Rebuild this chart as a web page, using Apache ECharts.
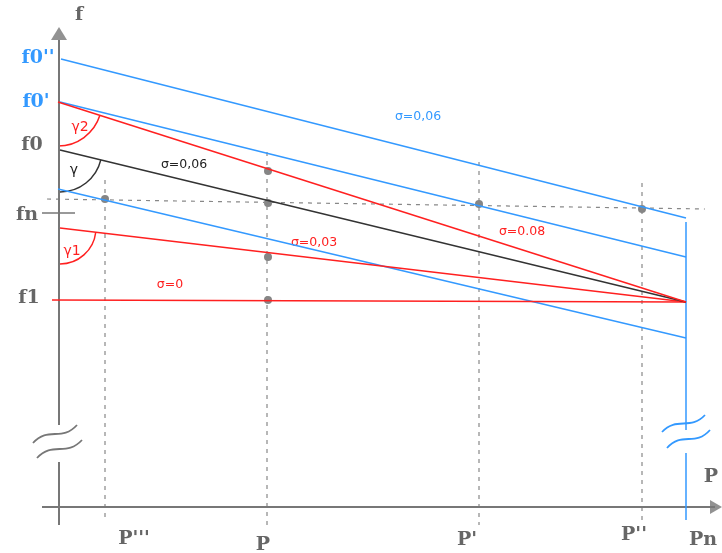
<!DOCTYPE html>
<html>
<head>
<meta charset="utf-8">
<script src="https://cdn.jsdelivr.net/npm/echarts@6/dist/echarts.min.js"></script>
<style>
  html, body { margin: 0; padding: 0; background: #fff; }
  #chart { width: 722px; height: 553px; }
</style>
</head>
<body>
<div id="chart"></div>
<script>
// f - P diagram, units counted from where the two axes cross (P right, f up)
const blueTop = [[2, 448], [627, 289]];
const blueMid = [[1, 405], [627, 250]];
const blueLow = [[-1, 318], [627, 169]];
const blueVertUp = [[627, 285], [627, 77]];
const blueVertDown = [[627, 54], [627, -13]];
const red008 = [[-1, 405], [627, 205]];
const black006 = [[1, 357], [627, 205]];
const red003 = [[1, 279], [627, 205]];
const red0 = [[-7, 207], [627, 205]];

const fAxisUp = [[0, 467], [0, 82]];
const fAxisDown = [[0, 45], [0, -18]];
const pAxis = [[-17, 0], [656, 0]];
const fnTick = [[-17, 294], [16, 294]];

const fnLine = [[-12, 308], [646, 298]];
const pDrops = [
  [[46, 327], [46, -15]],
  [[208, 355], [208, -23]],
  [[420, 345], [420, -18]],
  [[583, 324], [583, -13]]
];
const dots = [[46, 308], [209, 336], [209, 304], [209, 250], [209, 207], [420, 303], [583, 298]];

// angle arcs drawn from the start of a line down to the f axis
const arcs = [
  { line: red008, r: 44, color: '#ff2020' },
  { line: black006, r: 42, color: '#333333' },
  { line: red003, r: 36, color: '#ff2020' }
];
// axis break waves: [x1, y1, x2, y2]
const breaks = [
  { p: [-26, 64, 18, 82], color: '#777777' },
  { p: [-22, 49, 23, 67], color: '#777777' },
  { p: [603, 75, 646, 92], color: '#3399ff' },
  { p: [608, 59, 651, 77], color: '#3399ff' }
];

const BLUE = '#3399ff', RED = '#ff2020', BLACK = '#333333', GRAY = '#777777';

function seg(data, color, width, type) {
  return {
    type: 'line',
    data: data,
    symbol: 'none',
    silent: true,
    animation: false,
    lineStyle: { color: color, width: width || 1.5, type: type || 'solid' }
  };
}

const series = [
  seg(fnLine, '#888888', 1.2, [4, 5]),
  ...pDrops.map(d => seg(d, '#888888', 1.2, [4, 5])),
  seg(fAxisUp, GRAY, 2),
  seg(fAxisDown, GRAY, 2),
  seg(pAxis, GRAY, 2),
  seg(fnTick, GRAY, 1.5),
  seg(blueTop, BLUE),
  seg(blueMid, BLUE),
  seg(blueLow, BLUE),
  seg(blueVertUp, BLUE),
  seg(blueVertDown, BLUE),
  seg(red0, RED),
  seg(red003, RED),
  seg(black006, BLACK),
  seg(red008, RED),
  {
    type: 'scatter',
    data: dots,
    symbolSize: 8,
    itemStyle: { color: '#666666' },
    silent: true,
    animation: false
  },
  {
    // arrow heads
    type: 'scatter',
    data: [
      { value: [0, 473.5], symbolSize: [16, 13], symbolRotate: 0 },
      { value: [657, 0], symbolSize: [14, 12], symbolRotate: -90 }
    ],
    symbol: 'triangle',
    itemStyle: { color: GRAY },
    silent: true,
    animation: false
  },
  {
    type: 'custom',
    data: arcs.map(a => [a.line[0][0], a.line[0][1], a.line[1][0], a.line[1][1]]),
    silent: true,
    animation: false,
    renderItem: function (params, api) {
      const c = api.coord([api.value(0), api.value(1)]);
      const e = api.coord([api.value(2), api.value(3)]);
      const ang = Math.atan2(e[1] - c[1], e[0] - c[0]);
      const a = arcs[params.dataIndex];
      return {
        type: 'arc',
        shape: { cx: c[0], cy: c[1], r: a.r, startAngle: ang, endAngle: Math.PI / 2, clockwise: true },
        style: { stroke: a.color, fill: null, lineWidth: 1.5 }
      };
    }
  },
  {
    type: 'custom',
    data: breaks.map(b => b.p),
    silent: true,
    animation: false,
    renderItem: function (params, api) {
      const p1 = api.coord([api.value(0), api.value(1)]);
      const p2 = api.coord([api.value(2), api.value(3)]);
      const dx = p2[0] - p1[0], dy = p2[1] - p1[1];
      return {
        type: 'bezierCurve',
        shape: {
          x1: p1[0], y1: p1[1], x2: p2[0], y2: p2[1],
          cpx1: p1[0] + 0.35 * dx, cpy1: p1[1] + 0.95 * dy,
          cpx2: p1[0] + 0.65 * dx, cpy2: p1[1] + 0.05 * dy
        },
        style: { stroke: breaks[params.dataIndex].color, fill: null, lineWidth: 1.8 }
      };
    }
  }
];

const serif = '"DejaVu Serif", serif';
const sans = '"DejaVu Sans", sans-serif';
function label(text, x, y, color, font) {
  return {
    type: 'text', x: x, y: y, silent: true,
    style: { text: text, fill: color, font: font, align: 'center', verticalAlign: 'middle' }
  };
}

const big = 'bold 19px ' + serif;
const option = {
  backgroundColor: '#ffffff',
  animation: false,
  grid: { left: 0, right: 0, top: 0, bottom: 0 },
  xAxis: { type: 'value', min: -59, max: 663, show: false },
  yAxis: { type: 'value', min: -46, max: 507, show: false },
  series: series,
  graphic: [
    label('f', 79, 15, '#666666', big),
    label("f0''", 38, 58, BLUE, big),
    label("f0'", 36, 102, BLUE, big),
    label('f0', 32, 145, '#666666', big),
    label('fn', 27, 215, '#666666', big),
    label('f1', 29, 298, '#666666', big),
    label('P', 711, 477, '#666666', big),
    label("P'''", 134, 539, '#666666', big),
    label('P', 263, 545, '#666666', big),
    label("P'", 467, 540, '#666666', big),
    label("P''", 634, 535, '#666666', big),
    label('Pn', 703, 540, '#666666', big),
    label('σ=0,06', 418, 117, BLUE, '12.5px ' + sans),
    label('σ=0,06', 184, 165, '#222222', '12.5px ' + sans),
    label('σ=0.08', 522, 232, RED, '12.5px ' + sans),
    label('σ=0,03', 314, 243, RED, '12.5px ' + sans),
    label('σ=0', 170, 285, RED, '12.5px ' + sans),
    label('γ2', 80, 127, RED, '14px ' + sans),
    label('γ', 74, 170, '#222222', '14px ' + sans),
    label('γ1', 72, 251, RED, '14px ' + sans)
  ]
};

const chart = echarts.init(document.getElementById('chart'));
chart.setOption(option);
</script>
</body>
</html>
